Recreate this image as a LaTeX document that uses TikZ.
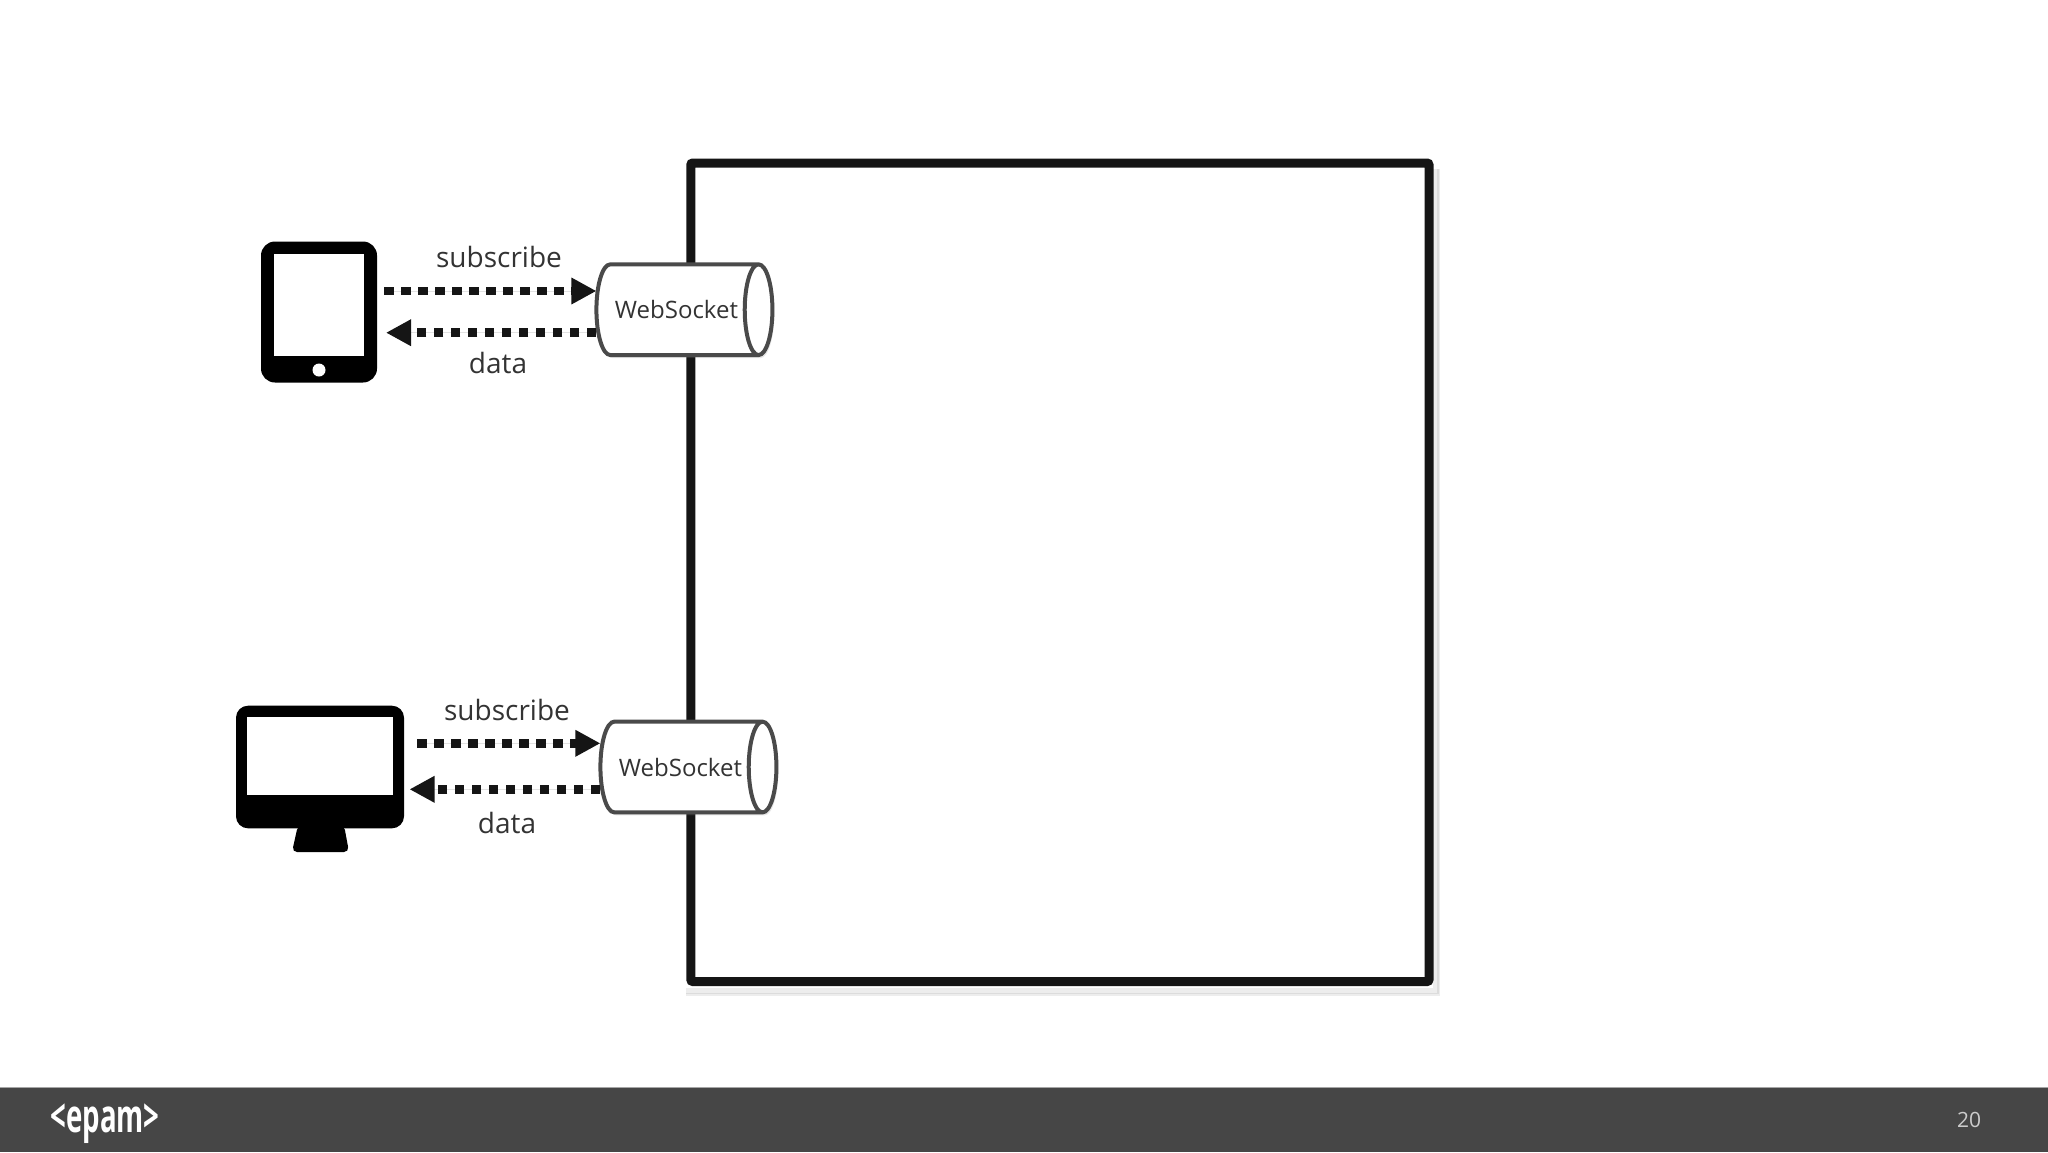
\documentclass[tikz,border=0pt]{standalone}
\usepackage{fontspec}
\setmainfont{Open Sans}
\usetikzlibrary{arrows.meta,shapes.geometric,shadows}
\definecolor{inkblack}{HTML}{151515}
\definecolor{footgray}{HTML}{464646}
\definecolor{sockgray}{HTML}{4A4A4A}
\tikzset{
	bigbox/.style={draw=inkblack,line width=9pt,rounded corners=2pt,minimum width=738.2pt,minimum height=818.5pt,inner sep=0pt},
	softline/.style={draw=black,opacity=.07},
	sockbox/.style={cylinder,draw=sockgray,line width=4pt,fill=white,cylinder uses custom fill,cylinder body fill=white,cylinder end fill=white,
		shape aspect=1.5,minimum height=176pt,minimum width=90.7pt,inner sep=0pt,outer sep=0pt,
		font=\fontsize{24}{30}\selectfont,text=black!80,drop shadow={shadow xshift=2pt,shadow yshift=-3pt,opacity=.2}},
	flow/.style={-{Triangle[length=25pt,width=25pt]},line width=8.5pt,draw=inkblack,fill=inkblack,dash pattern=on 9.6pt off 7.4pt},
	lbl/.style={font=\fontsize{28}{34}\selectfont,text=black!80},
	devbody/.style={fill=black,rounded corners=14pt,inner sep=0pt,outer sep=0pt},
	devscreen/.style={fill=white,inner sep=0pt,outer sep=0pt},
}
\begin{document}
\begin{tikzpicture}[x=1pt,y=-1pt]
	\useasboundingbox (0,0) rectangle (2048,1152);
	% big box with its soft shadow
	\node[bigbox] (broker) at (1059.9,572.25) {};
	\draw[softline,line width=6pt] ([yshift=-5pt]broker.south west) -- ([shift={(2pt,-5pt)}]broker.south east) -- ([shift={(2pt,-10pt)}]broker.north east);
	\draw[softline,line width=3pt] ([yshift=-8pt]broker.south west) -- ([shift={(5pt,-8pt)}]broker.south east) -- ([shift={(5pt,-10pt)}]broker.north east);
	% tablet
	\node[devbody,minimum width=116pt,minimum height=141pt] (tablet) at (319,312) {};
	\node[devscreen,minimum width=90pt,minimum height=102pt] (tabscreen) at (319,305) {};
	\node[devscreen,circle,minimum size=13pt] (tabbutton) at (319,370) {};
	% monitor
	\fill[black,rounded corners=5pt] (298,825) -- (344,825) -- (349,852) -- (292,852) -- cycle;
	\node[devbody,rounded corners=12pt,minimum width=168pt,minimum height=122.6pt] (monitor) at (320,767) {};
	\node[devscreen,minimum width=146pt,minimum height=78.6pt] (monscreen) at (320,756) {};
	% websockets
	\node[sockbox] (sockA) at (676.5,309.7) {WebSocket};
	\node[sockbox] (sockB) at (680.5,767) {WebSocket};
	% arrows
	\draw[flow] ([shift={(7pt,21pt)}]tablet.east) -- ([yshift=18.7pt]sockA.west);
	\draw[flow] ([yshift=-23pt]sockA.west) -- ([shift={(9pt,-20.7pt)}]tablet.east);
	\draw[flow] ([shift={(13pt,23.7pt)}]monitor.east) -- ([yshift=23.7pt]sockB.west);
	\draw[flow] ([yshift=-22.3pt]sockB.west) -- ([shift={(5.5pt,-22.3pt)}]monitor.east);
	% labels
	\node[lbl] (subA) at (499,257) {subscribe};
	\node[lbl] (dataA) at (498,363) {data};
	\node[lbl] (subB) at (507,710) {subscribe};
	\node[lbl] (dataB) at (507,823) {data};
	% footer
	\fill[footgray] (0,1088) rectangle (2048,1152);
	\draw[line width=1pt,black!35] (0,1087.5) -- (2048,1087.5);
	\node[text=white,font=\bfseries\fontsize{46}{50}\selectfont] (logo) at (105,1124) {\scalebox{.6}[1]{<epam>}};
	\node[text=black!20,font=\fontsize{21}{26}\selectfont] (pagenum) at (1969,1120) {20};
\end{tikzpicture}
\end{document}
